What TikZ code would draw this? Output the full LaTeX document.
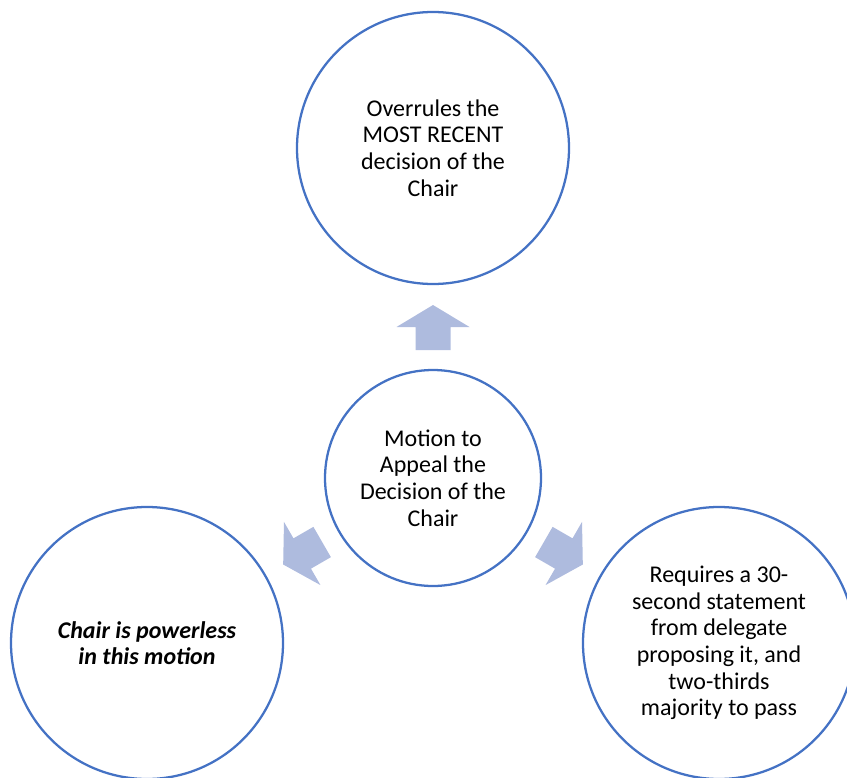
\documentclass[tikz,border=0pt]{standalone}
\usepackage{fontspec}
\setmainfont{Carlito}
\definecolor{ringblue}{RGB}{68,114,196}
\definecolor{arrowblue}{RGB}{174,187,222}
\tikzset{
	idea/.style={circle, draw=ringblue, line width=1.7pt, minimum size=204pt, inner sep=0pt, align=center, font=\fontsize{18}{20}\selectfont},
	hub/.style={idea, minimum size=162pt},
	blockarrow/.style={fill=arrowblue}
}

\begin{document}
\begin{tikzpicture}[x=0.75pt, y=-0.75pt]
	%%%%% START %%%%%
	
	\useasboundingbox (0,0) rectangle (847,778);
	
	\node[hub] (appeal) at (433,478) {Motion to\\Appeal the\\Decision of the\\Chair};
	
	\node[idea] (overrule) at (433,148) {Overrules the\\MOST RECENT\\decision of the\\Chair};
	\node[idea] (powerless) at (147,643) {\bfseries\itshape Chair is powerless\\\bfseries\itshape in this motion};
	\node[idea] (requires) at (719,643) {Requires a 30-\\second statement\\from delegate\\proposing it, and\\two-thirds\\majority to pass};
	
	\foreach \a in {0,120,-120}
		\fill[blockarrow, shift={(appeal.center)}, rotate=\a] (-17.5,-128) -- (17.5,-128) -- (17.5,-151) -- (36.5,-151) -- (0,-173) -- (-36.5,-151) -- (-17.5,-151) -- cycle;
	
	%%%%% END %%%%%
\end{tikzpicture}
\end{document}
